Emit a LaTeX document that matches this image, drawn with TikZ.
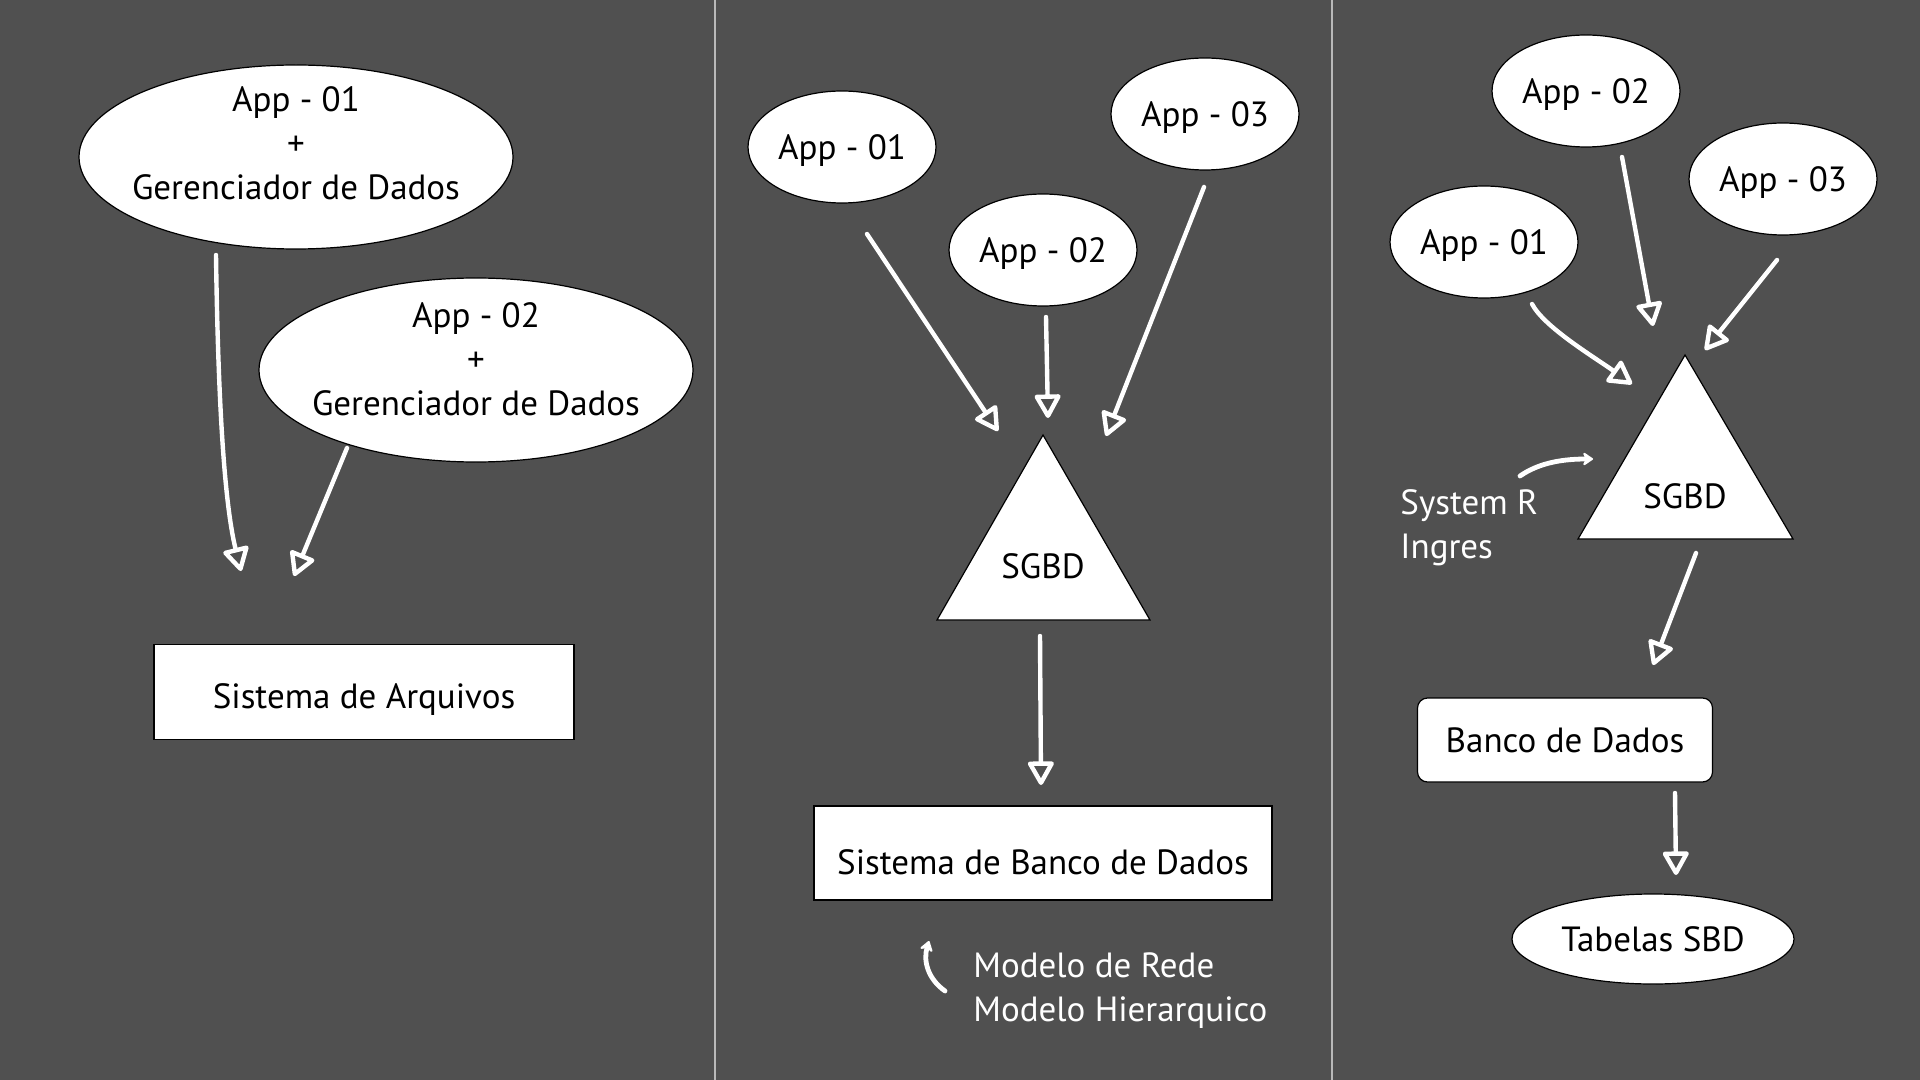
\documentclass[tikz,border=0pt]{standalone}
\usepackage{fontspec}
\setmainfont{PT Sans}
\usetikzlibrary{shapes.geometric,arrows.meta,calc}
\definecolor{bg}{RGB}{80,80,80}
\definecolor{divider}{RGB}{185,185,185}
\begin{document}
\begin{tikzpicture}[x=0.5pt,y=-0.5pt,
  font=\fontsize{17.5}{22}\selectfont,
  bigapp/.style={ellipse, draw=black, line width=0.6pt, fill=white, minimum width=217pt, minimum height=92pt, inner sep=0pt},
  app/.style={ellipse, draw=black, line width=0.6pt, fill=white, minimum width=94pt, minimum height=56pt, inner sep=0pt, text=black},
  box/.style={rectangle, draw=black, line width=0.6pt, fill=white, inner sep=0pt, text=black},
  tri/.style={draw=black, line width=0.6pt, fill=white},
  lbl/.style={text=black, align=center, inner sep=0pt},
  note/.style={text=white, align=left, inner sep=0pt, anchor=west},
  flow/.style={draw=white, line width=2.2pt, line cap=round, line join=round, -{Triangle[open, length=13pt, width=14pt, round]}},
  hook/.style={draw=white, line width=2.4pt, line cap=round, -{Stealth[length=6pt, width=8pt, round]}},
  sep/.style={draw=divider, line width=0.75pt}]
% background and frame
\fill[bg] (0,0) rectangle (1920,1080);
\useasboundingbox (0,0) rectangle (1920,1080);
\coordinate (d1t) at (715,0); \coordinate (d1b) at (715,1080);
\coordinate (d2t) at (1332,0); \coordinate (d2b) at (1332,1080);
\draw[sep] (d1t) -- (d1b);
\draw[sep] (d2t) -- (d2b);

% ---------- Panel 1 ----------
\node[bigapp] (e1) at (296,157) {};
\node[lbl] (e1t) at (296,143) {App - 01\\+\\Gerenciador de Dados};
\node[bigapp] (e2) at (476,370) {};
\node[lbl] (e2t) at (476,359) {App - 02\\+\\Gerenciador de Dados};
\node[box, minimum width=210pt, minimum height=47.5pt] (fs) at (364,692) {};
\node[lbl] (fst) at (364,700) {Sistema de Arquivos};
\draw[flow] ($(e1)+(-80,98)$) .. controls ($(e1)+(-78,240)$) and ($(fs)+(-140,-190)$) .. ($(fs)+(-123,-121)$);
\draw[flow] ($(e2)+(-129,78)$) -- ($(fs)+(-70,-116)$);

% ---------- Panel 2 ----------
\node[app] (p2a1) at (842,147) {};
\node[lbl] (p2a1t) at (842,151) {App - 01};
\node[app] (p2a2) at (1043,250) {};
\node[lbl] (p2a2t) at (1043,254) {App - 02};
\node[app] (p2a3) at (1205,114) {};
\node[lbl] (p2a3t) at (1205,118) {App - 03};
\coordinate (tri2) at (1043,566);
\path[tri] ($(tri2)+(0,-131)$) -- ($(tri2)+(-106,54)$) -- ($(tri2)+(107,54)$) -- cycle;
\node[lbl] (tri2t) at (tri2) {SGBD};
\node[box, minimum width=229pt, minimum height=47pt] (sbd) at (1043,853) {};
\node[lbl] (sbdt) at (1043,862) {Sistema de Banco de Dados};
\draw[flow] ($(p2a1)+(25,87)$) -- ($(tri2)+(-45,-135)$);
\draw[flow] ($(p2a2)+(3,67)$) -- ($(tri2)+(5,-148)$);
\draw[flow] ($(p2a3)+(-1,73)$) -- ($(tri2)+(63,-130)$);
\draw[flow] ($(tri2)+(-3,70)$) -- ($(sbd)+(-2,-68)$);
\node[note] (mnote) at (973,991) {Modelo de Rede\\Modelo Hierarquico};
\draw[hook] ($(mnote.west)+(-28,0)$) .. controls ($(mnote.west)+(-45,-12)$) and ($(mnote.west)+(-50,-30)$) .. ($(mnote.west)+(-44,-50)$);

% ---------- Panel 3 ----------
\node[app] (p3a2) at (1586,91) {};
\node[lbl] (p3a2t) at (1586,95) {App - 02};
\node[app] (p3a3) at (1783,179) {};
\node[lbl] (p3a3t) at (1783,183) {App - 03};
\node[app] (p3a1) at (1484,242) {};
\node[lbl] (p3a1t) at (1484,246) {App - 01};
\coordinate (tri3) at (1685,496);
\path[tri] ($(tri3)+(0,-141)$) -- ($(tri3)+(-107,43)$) -- ($(tri3)+(108,43)$) -- cycle;
\node[lbl] (tri3t) at (tri3) {SGBD};
\node[box, rounded corners=5pt, minimum width=147.5pt, minimum height=42pt] (bd) at (1565,740) {Banco de Dados};
\node[app, minimum width=141pt, minimum height=45pt] (tab) at (1653,939) {Tabelas SBD};
\draw[flow] ($(p3a1)+(48,62)$) .. controls ($(p3a1)+(60,85)$) and ($(p3a1)+(110,115)$) .. ($(tri3)+(-53,-112)$);
\draw[flow] ($(p3a2)+(36,66)$) -- ($(tri3)+(-32,-170)$);
\draw[flow] ($(p3a3)+(-6,81)$) -- ($(tri3)+(20,-146)$);
\draw[flow] ($(tri3)+(11,57)$) -- ($(bd)+(88,-75)$);
\draw[flow] ($(bd)+(110,53)$) -- ($(tab)+(23,-64)$);
\node[note] (snote) at (1400,528) {System R\\Ingres};
\draw[hook] ($(snote.west)+(120,-52)$) .. controls ($(snote.west)+(140,-66)$) and ($(snote.west)+(165,-69)$) .. ($(snote.west)+(193,-69)$);
\end{tikzpicture}
\end{document}
